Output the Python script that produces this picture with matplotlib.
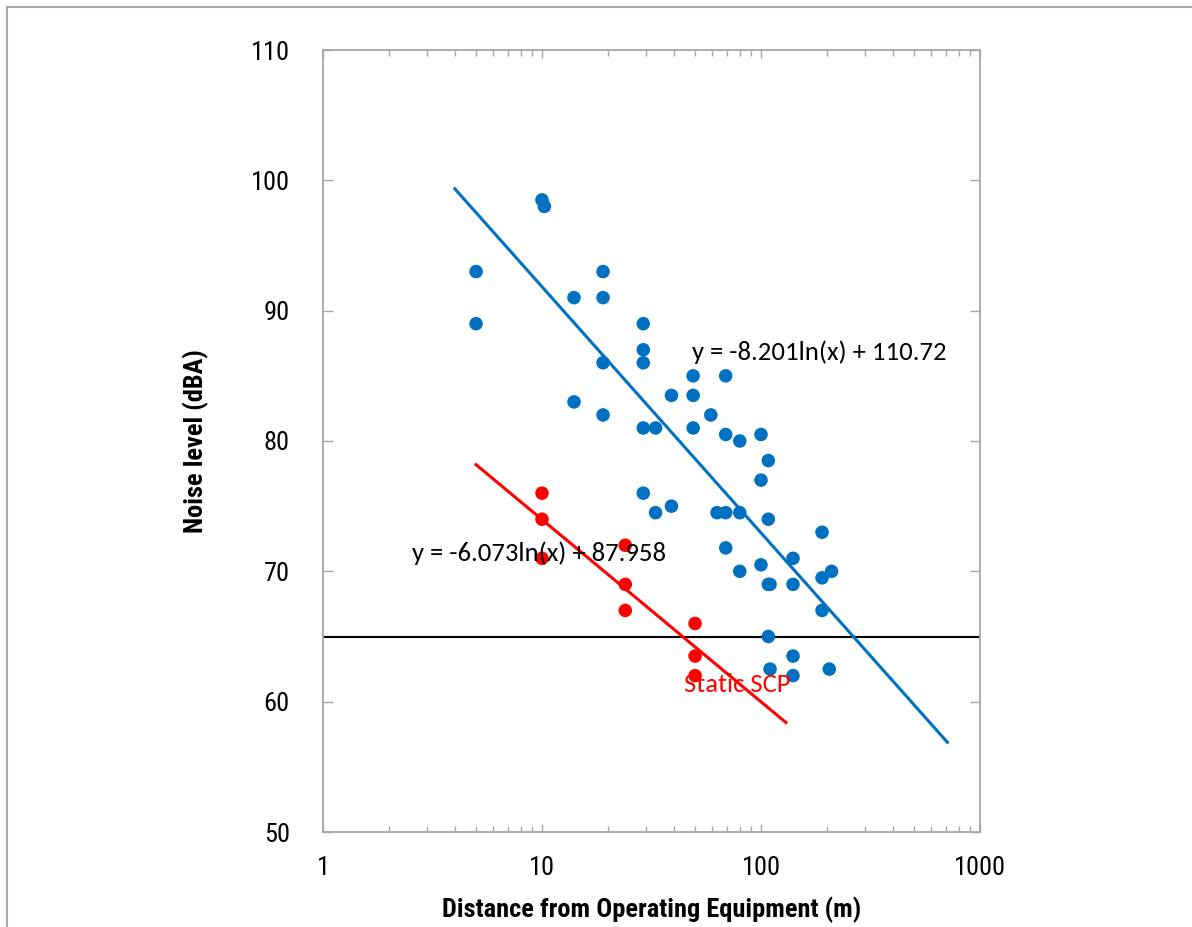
import numpy as np
import matplotlib
matplotlib.use("Agg")
import matplotlib.pyplot as plt
from matplotlib.patches import Rectangle
from matplotlib.ticker import LogLocator, FixedLocator, NullFormatter

# Measured noise levels for mobile operating equipment
equip_dist = [5, 5, 10, 10.25, 14, 14, 19, 19, 19, 19,
              29, 29, 29, 29, 29, 33, 33, 39, 39, 49, 49, 49,
              59, 63, 69, 80, 69, 69, 80, 100, 108, 100, 108,
              69, 80, 100, 108, 110, 140, 140, 190, 190, 210, 190,
              108, 140, 110, 140, 205]
equip_db = [93, 89, 98.5, 98, 91, 83, 93, 91, 86, 82,
            89, 87, 86, 81, 76, 81, 74.5, 83.5, 75, 85, 83.5, 81,
            82, 74.5, 74.5, 74.5, 85, 80.5, 80, 80.5, 78.5, 77, 74,
            71.8, 70, 70.5, 69, 69, 71, 69, 73, 69.5, 70, 67,
            65, 63.5, 62.5, 62, 62.5]

# Measured noise levels for the static SCP
scp_dist = [10, 10, 10, 24, 24, 24, 50, 50, 50]
scp_db = [76, 74, 71, 72, 69, 67, 66, 63.5, 62]

# Logarithmic trend fits: y = a*ln(x) + b
equip_fit = (-8.201, 110.72)
equip_fit_range = (4, 710)
scp_fit = (-6.073, 87.958)
scp_fit_range = (5, 130)

limit_db = 65

x_ticks = [1, 10, 100, 1000]
x_tick_labels = ["1", "10", "100", "1000"]
y_ticks = [50, 60, 70, 80, 90, 100, 110]

BLUE = "#0070C0"
RED = "#FF0000"
SPINE = "#A6A6A6"

tick_font = ["Roboto Condensed", "Liberation Sans Narrow", "Roboto", "DejaVu Sans"]
note_font = ["Carlito", "Lato", "DejaVu Sans"]

fig = plt.figure(figsize=(11.92, 9.27), dpi=100)
fig.patches.append(Rectangle((7 / 1192, -0.1), 1.2, 0.1 + (927 - 7) / 927,
                             transform=fig.transFigure, fill=False,
                             edgecolor="#A6A6A6", linewidth=1.5))

ax = fig.add_axes([323 / 1192, 1 - 832 / 927, (980 - 323) / 1192, (832 - 50) / 927])
ax.set_xscale("log")
ax.set_xlim(1, 1000)
ax.set_ylim(50, 110)

# trend lines
def trend(fit, rng):
    xs = np.geomspace(rng[0], rng[1], 200)
    return xs, fit[0] * np.log(xs) + fit[1]

ax.axhline(limit_db, color="black", linewidth=1.5, zorder=2)

xs, ys = trend(equip_fit, equip_fit_range)
ax.plot(xs, ys, color=BLUE, linewidth=2.2, zorder=3)
xs, ys = trend(scp_fit, scp_fit_range)
ax.plot(xs, ys, color=RED, linewidth=2.2, zorder=3)

ax.scatter(equip_dist, equip_db, s=95, color=BLUE, edgecolor="none", zorder=4)
ax.scatter(scp_dist, scp_db, s=95, color=RED, edgecolor="none", zorder=4)

ax.text(48.4, 86.8, "y = -8.201ln(x) + 110.72", fontsize=19.2, family=note_font,
        va="center", ha="left", zorder=5)
ax.text(2.55, 71.4, "y = -6.073ln(x) + 87.958", fontsize=19.2, family=note_font,
        va="center", ha="left", zorder=5)
ax.text(44.6, 61.35, "Static SCP", fontsize=19.2, family=note_font, color=RED,
        va="center", ha="left", zorder=5)

# axes styling
for sp in ax.spines.values():
    sp.set_color(SPINE)
    sp.set_linewidth(1.3)

ax.xaxis.set_major_locator(FixedLocator(x_ticks))
ax.set_xticklabels(x_tick_labels)
ax.xaxis.set_minor_locator(LogLocator(base=10, subs=np.arange(2, 10)))
ax.xaxis.set_minor_formatter(NullFormatter())
ax.set_yticks(y_ticks)

ax.tick_params(axis="x", which="major", direction="in", top=True, bottom=True,
               length=6, width=1, color=SPINE, pad=17)
ax.tick_params(axis="x", which="minor", direction="in", top=True, bottom=True,
               length=4, width=1, color=SPINE)
ax.tick_params(axis="y", which="major", direction="in", left=True, right=True,
               length=7, width=1, color=SPINE, pad=24)
ax.tick_params(axis="y", which="minor", left=False, right=False)

for lab in ax.get_xticklabels() + ax.get_yticklabels():
    lab.set_family(tick_font)
    lab.set_fontsize(19)

ax.set_xlabel("Distance from Operating Equipment (m)", family=tick_font,
              fontsize=19, fontweight="bold", labelpad=12)
ax.set_ylabel("Noise level (dBA)", family=tick_font, fontsize=19,
              fontweight="bold", labelpad=30)

fig.savefig("out.png", dpi=100, facecolor="white")
